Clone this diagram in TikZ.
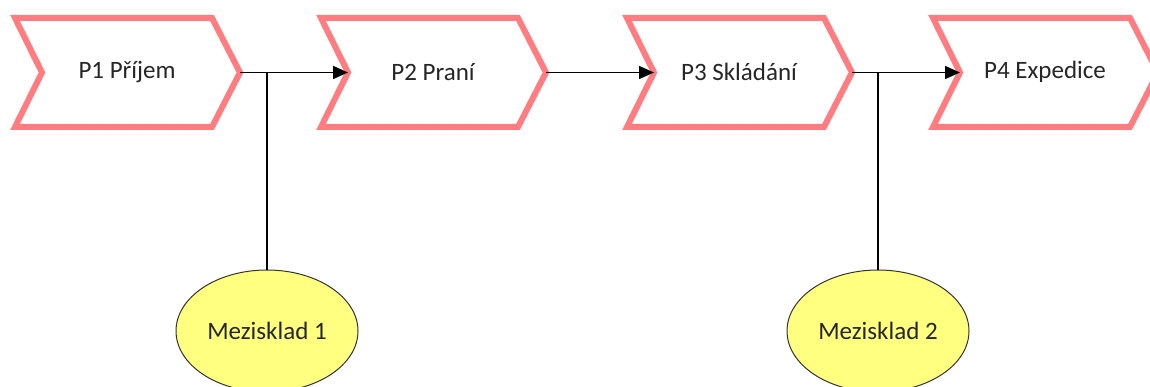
\documentclass[tikz,border=0pt]{standalone}
\usepackage{fontspec}
\setmainfont{Carlito}
\usetikzlibrary{shapes.geometric, arrows.meta}
\definecolor{stepred}{HTML}{FF7C80}
\definecolor{bufyellow}{HTML}{FFFF80}
\definecolor{labelgray}{HTML}{262626}

\tikzset{
  stepshape/.style={draw=stepred, line width=6pt, fill=white},
  flow/.style={black, line width=1.5pt, -{Triangle[length=15pt,width=13pt]}},
  branch/.style={black, line width=1.5pt},
  buffer/.style={ellipse, draw=black!80, line width=1pt, fill=bufyellow,
    minimum width=182pt, minimum height=122pt, inner sep=0pt}
}

\begin{document}
\begin{tikzpicture}[x=1pt, y=-1pt, font=\fontsize{25}{30}\selectfont, text=labelgray]
\useasboundingbox (0,0) rectangle (1150,387);
\def\stepgap{306};
% process steps as chevrons
\foreach \i/\lbl in {1/{P1 Příjem},2/{P2 Praní},3/{P3 Skládání},4/{P4 Expedice}} {
  \begin{scope}[xshift={15+(\i-1)*\stepgap}]
    \draw [stepshape] (0,18) -- (197,18) -- (225,72.5) -- (197,127) -- (0,127) -- (27,72.5) -- cycle;
    \coordinate (p\i-in) at (27,72.5);
    \coordinate (p\i-out) at (225,72.5);
    \node (p\i) at (112,72) {\lbl};
  \end{scope}
}
% intermediate stores
\node (buf1) [buffer] at (267,331) {Mezisklad 1};
\node (buf2) [buffer] at (878,331) {Mezisklad 2};
% flow between steps
\draw [flow] (p1-out) -- (p2-in);
\draw [flow] (p2-out) -- (p3-in);
\draw [flow] (p3-out) -- (p4-in);
\draw [branch] (buf1.north) -- (buf1.north |- p1-out);
\draw [branch] (buf2.north) -- (buf2.north |- p3-out);
\end{tikzpicture}
\end{document}
